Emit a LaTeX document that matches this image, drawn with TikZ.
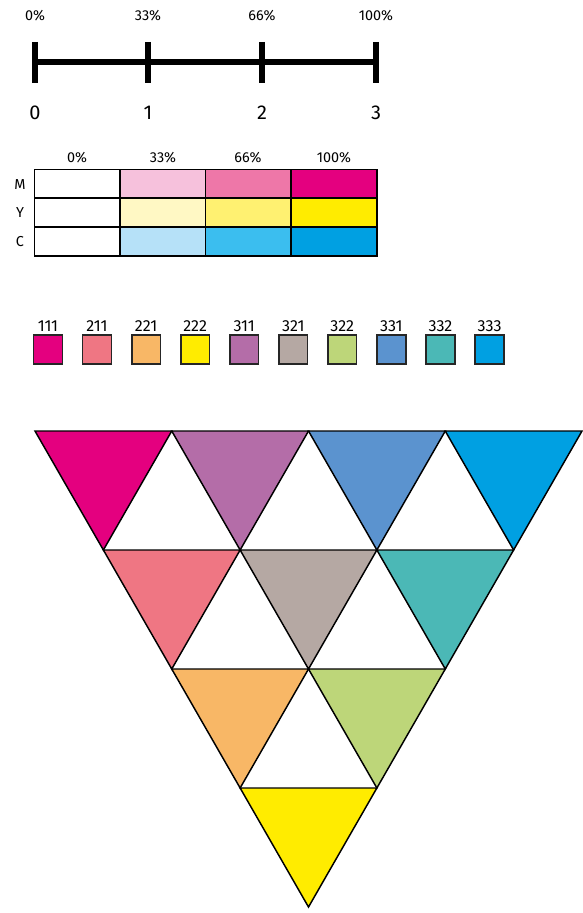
\documentclass[tikz,border=0pt]{standalone}
\usepackage{fontspec}
\setmainfont{Fira Sans}
\usepackage{tikz}
\usetikzlibrary{positioning}
\usepackage{xcolor}
\definecolor{mfull}{HTML}{E4007F}
\definecolor{mmid}{HTML}{EE77A8}
\definecolor{mlow}{HTML}{F6C1DC}
\definecolor{yfull}{HTML}{FFEC00}
\definecolor{ymid}{HTML}{FFF171}
\definecolor{ylow}{HTML}{FFF8C4}
\definecolor{cfull}{HTML}{00A0E2}
\definecolor{cmid}{HTML}{3BBEEF}
\definecolor{clow}{HTML}{B6E1F8}
\definecolor{cola}{HTML}{E4007F}
\definecolor{colb}{HTML}{EF7683}
\definecolor{colc}{HTML}{F8B766}
\definecolor{cold}{HTML}{FFEC00}
\definecolor{cole}{HTML}{B46DA8}
\definecolor{colf}{HTML}{B5A8A3}
\definecolor{colg}{HTML}{BDD679}
\definecolor{colh}{HTML}{5B93CF}
\definecolor{coli}{HTML}{4BB8B6}
\definecolor{colj}{HTML}{00A0E2}

\begin{document}
\begin{tikzpicture}[
  x=0.75pt,y=-0.75pt,
  pct/.style={font=\fontsize{10.8}{12}\selectfont,inner sep=0pt},
  num/.style={font=\fontsize{15}{17}\selectfont,inner sep=0pt},
  rowlab/.style={font=\fontsize{10.8}{12}\selectfont,inner sep=0pt},
  bar/.style={line width=3.8pt,line cap=butt},
  tick/.style={line width=3.8pt,line cap=butt},
  cell/.style={rectangle,draw,line width=1.1pt,minimum width=64.3pt,
        minimum height=21.6pt,inner sep=0pt,outer sep=0pt},
  swatch/.style={rectangle,draw=black!85,line width=1.2pt,minimum width=21.5pt,
        minimum height=21.5pt,inner sep=0pt,outer sep=0pt},
  swlab/.style={font=\fontsize{12}{14}\selectfont,inner sep=0pt},
  tri/.style={draw,line width=1.1pt,line join=miter}
]
\useasboundingbox (0,0) rectangle (582,913);
% Scale 0..3
\coordinate (t0) at (35,62);
\coordinate (t1) at (148,62);
\coordinate (t2) at (262,62);
\coordinate (t3) at (376,62);
\draw[bar] (t0) -- (t3);
\draw[tick] (35,42) -- (35,83);
\draw[tick] (148,42) -- (148,83);
\draw[tick] (262,42) -- (262,83);
\draw[tick] (376,42) -- (376,83);
\node[pct] (p0) at (35,15.5) {0\%};
\node[pct] (p1) at (148,15.5) {33\%};
\node[pct] (p2) at (262,15.5) {66\%};
\node[pct] (p3) at (376,15.5) {100\%};
\node[num] (n0) at (35,112.5) {0};
\node[num] (n1) at (148,112.5) {1};
\node[num] (n2) at (262,112.5) {2};
\node[num] (n3) at (376,112.5) {3};
% Table M / Y / C
\node[pct] (h0) at (77,158) {0\%};
\node[pct] (h1) at (163,158) {33\%};
\node[pct] (h2) at (248,158) {66\%};
\node[pct] (h3) at (334,158) {100\%};
\node[rowlab] (lm) at (20,185) {M};
\node[rowlab] (ly) at (20,213) {Y};
\node[rowlab] (lc) at (20,242) {C};
\node[cell,fill=white] (m0) at (77.1,183.8) {};
\node[cell,fill=mlow] (m1) at (162.9,183.8) {};
\node[cell,fill=mmid] (m2) at (248.4,183.8) {};
\node[cell,fill=mfull] (m3) at (334,183.8) {};
\node[cell,fill=white] (y0) at (77.1,212.7) {};
\node[cell,fill=ylow] (y1) at (162.9,212.7) {};
\node[cell,fill=ymid] (y2) at (248.4,212.7) {};
\node[cell,fill=yfull] (y3) at (334,212.7) {};
\node[cell,fill=white] (c0) at (77.1,241.5) {};
\node[cell,fill=clow] (c1) at (162.9,241.5) {};
\node[cell,fill=cmid] (c2) at (248.4,241.5) {};
\node[cell,fill=cfull] (c3) at (334,241.5) {};
% Swatches
\node[swatch,fill=cola] (s111) at (48,349.5) {};
\node[swatch,fill=colb] (s211) at (97,349.5) {};
\node[swatch,fill=colc] (s221) at (146.1,349.5) {};
\node[swatch,fill=cold] (s222) at (195.2,349.5) {};
\node[swatch,fill=cole] (s311) at (244.2,349.5) {};
\node[swatch,fill=colf] (s321) at (293.3,349.5) {};
\node[swatch,fill=colg] (s322) at (342.3,349.5) {};
\node[swatch,fill=colh] (s331) at (391.4,349.5) {};
\node[swatch,fill=coli] (s332) at (440.4,349.5) {};
\node[swatch,fill=colj] (s333) at (489.5,349.5) {};
\node[swlab] (l111) at (48,326) {111};
\node[swlab] (l211) at (97,326) {211};
\node[swlab] (l221) at (146.1,326) {221};
\node[swlab] (l222) at (195.2,326) {222};
\node[swlab] (l311) at (244.2,326) {311};
\node[swlab] (l321) at (293.3,326) {321};
\node[swlab] (l322) at (342.3,326) {322};
\node[swlab] (l331) at (391.4,326) {331};
\node[swlab] (l332) at (440.4,326) {332};
\node[swlab] (l333) at (489.5,326) {333};
% Triangle grid
\coordinate (a0) at (35,431);
\coordinate (a1) at (171.75,431);
\coordinate (a2) at (308.5,431);
\coordinate (a3) at (445.25,431);
\coordinate (a4) at (582,431);
\coordinate (b0) at (103.375,550);
\coordinate (b1) at (240.125,550);
\coordinate (b2) at (376.875,550);
\coordinate (b3) at (513.625,550);
\coordinate (c0) at (171.75,669);
\coordinate (c1) at (308.5,669);
\coordinate (c2) at (445.25,669);
\coordinate (d0) at (240.125,788);
\coordinate (d1) at (376.875,788);
\coordinate (e0) at (308.5,907);
\draw[tri,fill=cola] (a0) -- (a1) -- (b0) -- cycle;
\draw[tri,fill=cole] (a1) -- (a2) -- (b1) -- cycle;
\draw[tri,fill=colh] (a2) -- (a3) -- (b2) -- cycle;
\draw[tri,fill=colj] (a3) -- (a4) -- (b3) -- cycle;
\draw[tri,fill=colb] (b0) -- (b1) -- (c0) -- cycle;
\draw[tri,fill=colf] (b1) -- (b2) -- (c1) -- cycle;
\draw[tri,fill=coli] (b2) -- (b3) -- (c2) -- cycle;
\draw[tri,fill=colc] (c0) -- (c1) -- (d0) -- cycle;
\draw[tri,fill=colg] (c1) -- (c2) -- (d1) -- cycle;
\draw[tri,fill=cold] (d0) -- (d1) -- (e0) -- cycle;
\end{tikzpicture}
\end{document}
